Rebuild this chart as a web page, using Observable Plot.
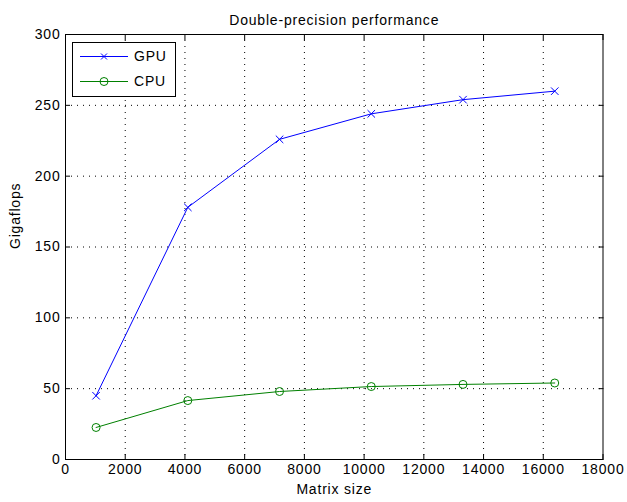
<!DOCTYPE html>
<html>
<head>
<meta charset="utf-8">
<script src="https://cdn.jsdelivr.net/npm/d3@7"></script>
<script src="https://cdn.jsdelivr.net/npm/@observablehq/plot@0.6"></script>
<style>
  html, body { margin: 0; padding: 0; background: white; }
  #chart { position: relative; width: 627px; height: 502px; }
  #chart svg text { letter-spacing: 0.8px; }
</style>
</head>
<body>
<div id="chart"></div>
<script>
// ---- data ----
const matrixSizes = [1024, 4096, 7168, 10240, 13312, 16384];
const gpuGflops = [45, 178, 226, 244, 254, 260];
const cpuGflops = [22.6, 41.6, 48, 51.5, 53, 54];
const xTicks = [0, 2000, 4000, 6000, 8000, 10000, 12000, 14000, 16000, 18000];
const yTicks = [0, 50, 100, 150, 200, 250, 300];
const seriesNames = ["GPU", "CPU"];
const seriesColors = ["#0000ff", "#008000"];
const titleText = "Double-precision performance";
const xLabel = "Matrix size";
const yLabel = "Gigaflops";

const gpu = matrixSizes.map((x, i) => ({x, y: gpuGflops[i]}));
const cpu = matrixSizes.map((x, i) => ({x, y: cpuGflops[i]}));
const xInner = xTicks.slice(1, -1);
const yInner = yTicks.slice(1, -1);

const FS = 14;
const grid = {stroke: "black", strokeOpacity: 1, strokeDasharray: "1,5", strokeWidth: 1};

const plot = Plot.plot({
  width: 627,
  height: 502,
  marginLeft: 65,
  marginRight: 24.5,
  marginTop: 34,
  marginBottom: 43,
  style: {fontFamily: "'Liberation Sans', Arial, sans-serif", fontSize: FS + "px", background: "white", color: "black"},
  x: {domain: [0, 18000]},
  y: {domain: [0, 300]},
  marks: [
    Plot.gridX(xInner, grid),
    Plot.gridY(yInner, grid),
    // tick labels
    Plot.axisX(xTicks, {anchor: "bottom", tickSize: 0, tickPadding: 5, tickFormat: d => String(d), label: null, fontSize: FS}),
    Plot.axisY(yTicks, {anchor: "left", tickSize: 0, tickPadding: 5, tickFormat: d => String(d), label: null, fontSize: FS}),
    // inward ticks on all four sides
    Plot.axisX(xTicks, {anchor: "bottom", tickSize: 5, dy: -5, tickFormat: () => "", label: null}),
    Plot.axisX(xTicks, {anchor: "top", tickSize: 5, dy: 5, tickFormat: () => "", label: null}),
    Plot.axisY(yTicks, {anchor: "left", tickSize: 5, dx: 5, tickFormat: () => "", label: null}),
    Plot.axisY(yTicks, {anchor: "right", tickSize: 5, dx: -5, tickFormat: () => "", label: null}),
    Plot.frame({stroke: "black", strokeWidth: 1}),
    Plot.line(gpu, {x: "x", y: "y", stroke: seriesColors[0], strokeWidth: 1}),
    Plot.dot(gpu, {x: "x", y: "y", stroke: seriesColors[0], symbol: "times", r: 3.5, strokeWidth: 1}),
    Plot.line(cpu, {x: "x", y: "y", stroke: seriesColors[1], strokeWidth: 1}),
    Plot.dot(cpu, {x: "x", y: "y", stroke: seriesColors[1], symbol: "circle", r: 4, fill: "none", strokeWidth: 1}),
    // title and axis labels
    Plot.text([titleText], {frameAnchor: "top", dy: -19, fontSize: FS, fill: "black"}),
    Plot.text([xLabel], {frameAnchor: "bottom", dy: 34, fontSize: FS, fill: "black"}),
    Plot.text([yLabel], {frameAnchor: "left", dx: -50, dy: 2, rotate: -90, fontSize: FS, fill: "black"})
  ]
});
document.getElementById("chart").appendChild(plot);

// legend box inside the axes (top-left)
const svg = d3.select(plot);
const lg = svg.append("g").attr("transform", "translate(72,42)")
  .attr("text-anchor", "start")
  .style("font-family", "'Liberation Sans', Arial, sans-serif").style("font-size", FS + "px");
lg.append("rect").attr("x", 0.5).attr("y", 0.5).attr("width", 103).attr("height", 54)
  .attr("fill", "white").attr("stroke", "black");
seriesNames.forEach((name, i) => {
  const cy = 14.5 + i * 25;
  const c = seriesColors[i];
  lg.append("line").attr("x1", 8).attr("x2", 56).attr("y1", cy).attr("y2", cy).attr("stroke", c);
  if (i === 0) {
    lg.append("path").attr("d", `M${32-3},${cy-3}L${32+3},${cy+3}M${32-3},${cy+3}L${32+3},${cy-3}`).attr("stroke", c);
  } else {
    lg.append("circle").attr("cx", 32).attr("cy", cy).attr("r", 4).attr("fill", "none").attr("stroke", c);
  }
  lg.append("text").attr("x", 62).attr("y", cy).attr("dy", "0.35em").attr("fill", "black")
    .attr("text-anchor", "start").text(name);
});
</script>
</body>
</html>
